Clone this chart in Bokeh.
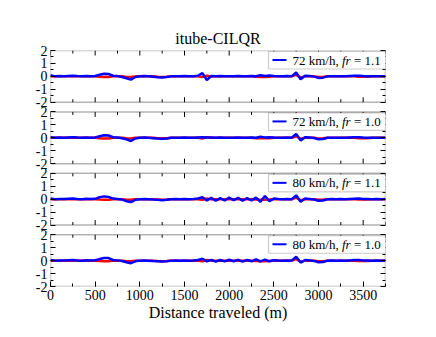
from bokeh.plotting import figure
from bokeh.models import (Range1d, LinearAxis, FixedTicker, SingleIntervalTicker,
                          BoxAnnotation, Label, ColumnDataSource, Grid)
from bokeh.transform import dodge
from bokeh.embed import file_html
from bokeh.resources import INLINE

# ---------------- data ----------------
distance = list(range(0, 3751, 50))  # m

# red reference trace (mostly hidden under the blue ones)
ref_dev = [0, 0, 0, 0, 0, 0, 0, 0, 0, 0,
           0, -0.03, -0.05, -0.05, 0, 0, 0, -0.04, -0.05, 0,
           0, 0, 0, 0, -0.03, -0.04, -0.03, 0, 0, 0,
           0, 0, 0, 0, -0.05, 0.05, 0, 0, 0, 0,
           0, 0, 0, 0, 0, 0, -0.03, -0.04, -0.04, -0.03,
           0, 0, 0, 0, 0, 0.12, -0.08, 0, 0, 0,
           -0.05, -0.04, 0, 0, 0, 0, 0, 0, 0, -0.03,
           -0.03, -0.03, 0, 0, 0, 0]

dev_72_11 = [0.08, 0.0, 0.02, 0.0, 0.03, 0.05, 0.02, 0.0, 0.03, 0.01,
             0.03, 0.12, 0.2, 0.18, 0.05, 0.02, -0.05, -0.15, -0.25, -0.05,
             0.0, 0.02, 0.0, -0.03, -0.06, -0.08, -0.05, 0.0, 0.01, 0.0,
             0.02, 0.0, 0.01, 0.05, 0.25, -0.28, 0.03, 0.0, 0.02, 0.0,
             0.01, 0.0, 0.02, 0.0, 0.01, 0.03, 0.01, 0.08, 0.03, 0.06,
             0.02, 0.01, 0.0, 0.02, 0.0, 0.3, -0.22, 0.05, 0.02, -0.02,
             -0.12, -0.1, 0.0, 0.01, 0.0, 0.01, 0.0, 0.02, 0.04, 0.05,
             0.02, 0.01, 0.0, 0.01, 0.0, 0.01]

dev_72_10 = [0.05, 0.0, 0.02, 0.01, 0.03, 0.05, 0.02, 0.0, 0.03, 0.01,
             0.02, 0.12, 0.2, 0.18, 0.05, 0.02, -0.03, -0.12, -0.25, -0.05,
             0.0, 0.02, 0.0, -0.03, -0.06, -0.08, -0.06, 0.0, 0.01, 0.0,
             0.02, 0.0, 0.01, 0.03, 0.05, 0.02, 0.03, 0.0, 0.02, 0.01,
             0.01, 0.0, 0.02, 0.0, 0.01, 0.03, 0.01, 0.08, 0.03, 0.05,
             0.02, 0.01, 0.0, 0.02, 0.0, 0.3, -0.2, 0.05, 0.02, -0.02,
             -0.12, -0.1, 0.0, 0.01, 0.0, 0.01, 0.0, 0.02, 0.04, 0.05,
             0.02, 0.01, 0.0, 0.01, 0.0, 0.01]

dev_80_11 = [0.05, 0.0, 0.02, 0.01, 0.03, 0.05, 0.02, 0.0, 0.03, 0.01,
             0.03, 0.15, 0.22, 0.18, 0.05, 0.02, -0.03, -0.15, -0.22, -0.05,
             0.0, 0.02, 0.0, -0.03, -0.05, -0.08, -0.05, 0.0, 0.01, 0.0,
             0.02, 0.0, 0.01, 0.05, 0.15, -0.1, 0.1, -0.12, 0.08, -0.1,
             0.12, -0.08, 0.1, -0.12, 0.08, -0.1, 0.12, -0.2, 0.25, -0.15,
             0.05, 0.02, 0.0, 0.02, 0.0, 0.3, -0.2, 0.05, 0.02, -0.02,
             -0.12, -0.1, 0.0, 0.01, 0.0, 0.01, 0.0, 0.02, 0.04, 0.05,
             0.02, 0.01, 0.0, 0.01, 0.0, 0.01]

dev_80_10 = [0.05, 0.0, 0.02, 0.01, 0.03, 0.05, 0.02, 0.0, 0.03, 0.01,
             0.03, 0.12, 0.2, 0.2, 0.05, 0.02, -0.03, -0.12, -0.2, -0.05,
             0.0, 0.02, 0.0, -0.03, -0.05, -0.07, -0.05, 0.0, 0.01, 0.0,
             0.02, 0.0, 0.01, 0.05, 0.15, -0.06, 0.06, -0.08, 0.05, -0.06,
             0.07, -0.05, 0.06, -0.08, 0.06, -0.05, 0.1, -0.06, 0.08, -0.05,
             0.03, 0.01, 0.0, 0.02, 0.0, 0.3, -0.15, 0.05, 0.02, -0.02,
             -0.12, -0.1, 0.0, 0.01, 0.0, 0.01, 0.0, 0.02, 0.04, 0.05,
             0.02, 0.01, 0.0, 0.01, 0.0, 0.01]

panel_series = [dev_72_11, dev_72_10, dev_80_11, dev_80_10]
panel_speed = ["72 km/h,", "72 km/h,", "80 km/h,", "80 km/h,"]
panel_fr = ["= 1.1", "= 1.0", "= 1.1", "= 1.0"]

y_tick_vals = [-2, -1, 0, 1, 2]
y_minor_vals = [-1.5, -0.5, 0.5, 1.5]
x_major_vals = list(range(0, 3501, 500))
x_minor_vals = list(range(250, 3751, 500))
title_text = "itube-CILQR"

# ---------------- layout constants ----------------
FONT = "Liberation Serif"
X_END = 3750
HALF = 2.0          # panel half height (data units)
GAP = 0.75          # gap between panels (data units)
Y_END = 4 * 2 * HALF + 3 * GAP
offsets = [Y_END - HALF - k * (2 * HALF + GAP) for k in range(4)]
FW, FH = 335, 236
MX = X_END / FW     # metres per pixel
MY = Y_END / FH     # units per pixel

p = figure(frame_width=FW, frame_height=FH,
           x_range=Range1d(0, X_END), y_range=Range1d(0, Y_END),
           output_backend="svg", toolbar_location=None,
           x_axis_location=None, y_axis_location=None,
           min_border_left=50, min_border_right=30,
           min_border_top=50, min_border_bottom=30,
           title=title_text)
p.outline_line_color = None
p.background_fill_color = "white"
for g in p.select(type=Grid):
    g.visible = False
p.title.align = "center"
p.title.text_font = FONT
p.title.text_font_size = "16px"
p.title.text_font_style = "normal"
p.title.text_color = "black"
p.title.standoff = 7

def style_axis(ax):
    ax.axis_line_color = None
    ax.major_tick_in = 5
    ax.major_tick_out = 0
    ax.minor_tick_in = 3
    ax.minor_tick_out = 0
    ax.major_tick_line_color = "black"
    ax.minor_tick_line_color = "black"
    ax.major_label_text_font = FONT
    ax.major_label_text_font_size = "14px"
    ax.major_label_text_color = "black"
    ax.axis_label_text_font = FONT
    ax.axis_label_text_font_size = "16px"
    ax.axis_label_text_font_style = "normal"
    ax.axis_label_text_color = "black"

xaxis = LinearAxis(ticker=SingleIntervalTicker(interval=500, num_minor_ticks=2),
                   axis_label="Distance traveled (m)")
style_axis(xaxis)
xaxis.major_label_standoff = 3
xaxis.axis_label_standoff = 1
p.add_layout(xaxis, "below")

yt = [o + v for o in offsets for v in y_tick_vals]
ym = [o + v for o in offsets for v in y_minor_vals]
overrides = {o + v: str(v) for o in offsets for v in y_tick_vals}
yaxis = LinearAxis(ticker=FixedTicker(ticks=yt, minor_ticks=ym),
                   major_label_overrides=overrides)
style_axis(yaxis)
yaxis.major_label_standoff = 3
p.add_layout(yaxis, "left")

raxis = LinearAxis(ticker=FixedTicker(ticks=yt, minor_ticks=ym))
style_axis(raxis)
raxis.major_label_text_color = None
raxis.major_label_text_font_size = "1px"
p.add_layout(raxis, "right")

# top / bottom tick marks for the inner panel edges
sx0, sy0, sx1, sy1 = [], [], [], []
for k, o in enumerate(offsets):
    for xs, ln in ((x_major_vals, 5), (x_minor_vals, 3)):
        for xv in xs:
            sx0.append(xv); sy0.append(o + HALF); sx1.append(xv); sy1.append(o + HALF - ln * MY)
            if k < 3:
                sx0.append(xv); sy0.append(o - HALF); sx1.append(xv); sy1.append(o - HALF + ln * MY)
p.segment(sx0, sy0, sx1, sy1, line_color="black", line_width=1)

for k, o in enumerate(offsets):
    src = ColumnDataSource(dict(x=distance, v=panel_series[k], r=ref_dev))
    p.line("x", dodge("r", o, range=p.y_range), source=src, line_color="#ff0000", line_width=2.5)
    p.line("x", dodge("v", o, range=p.y_range), source=src, line_color="#0000ff", line_width=2.5)

    p.add_layout(BoxAnnotation(left=0, right=X_END, bottom=o - HALF, top=o + HALF,
                               fill_alpha=0, line_color="black", line_width=1.5))
    # legend box
    p.add_layout(BoxAnnotation(left=(268 - 50) * MX, right=X_END,
                               bottom=o + HALF - 18.5 * MY, top=o + HALF - 1 * MY,
                               fill_color="white", fill_alpha=1,
                               line_color="#555555", line_width=1.2))
    ly = o + HALF - 9.5 * MY
    p.segment([(272 - 50) * MX], [ly], [(286 - 50) * MX], [ly],
              line_color="#0000ff", line_width=2, level="overlay")
    p.add_layout(Label(x=(292 - 50) * MX, y=ly, text=panel_speed[k], text_font=FONT,
                       text_font_size="13px", text_baseline="middle", text_color="black"))
    p.add_layout(Label(x=(341.5 - 50) * MX, y=ly, text="fr", text_font=FONT,
                       text_font_style="italic",
                       text_font_size="13px", text_baseline="middle", text_color="black"))
    p.add_layout(Label(x=(353.5 - 50) * MX, y=ly, text=panel_fr[k], text_font=FONT,
                       text_font_size="13px", text_baseline="middle", text_color="black"))
    # y-axis label per panel
    p.add_layout(Label(x=(26 - 50) * MX, y=o, text="Δ (m)", angle=90, angle_units="deg",
                       text_font=FONT, text_font_size="15px", text_align="center",
                       text_baseline="middle", text_color="black"))

open("out.html", "w").write(file_html(p, INLINE))
